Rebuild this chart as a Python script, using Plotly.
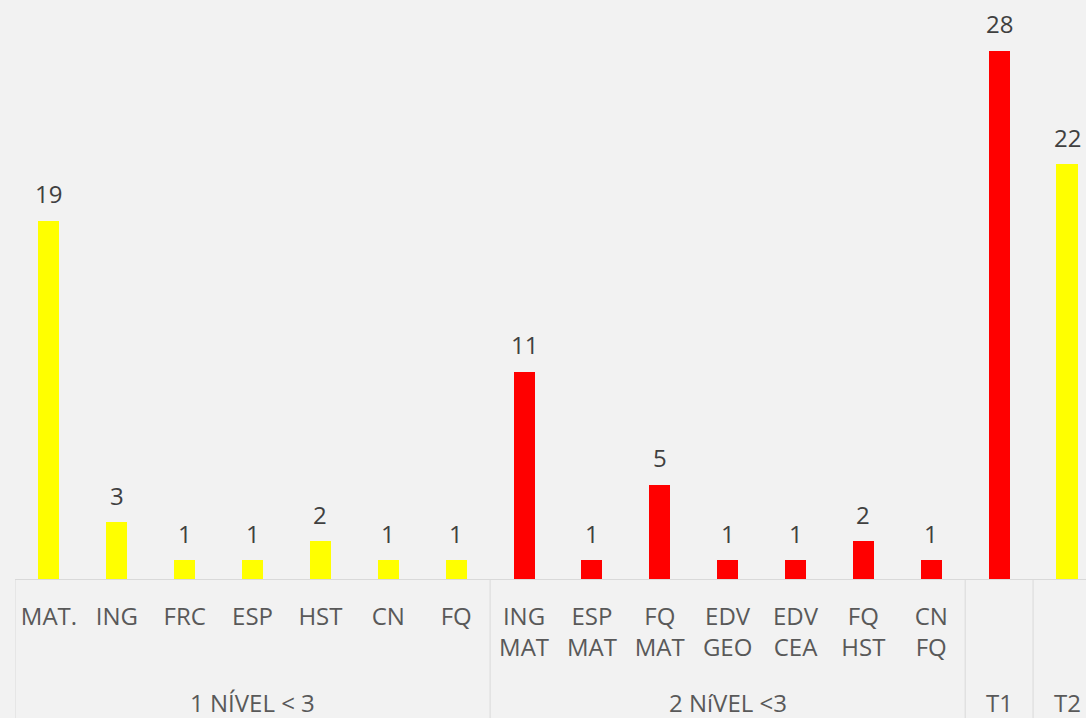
import plotly.graph_objects as go

# ---- data ----
sub_labels = ["MAT.", "ING", "FRC", "ESP", "HST", "CN", "FQ",
              "ING<br>MAT", "ESP<br>MAT", "FQ<br>MAT", "EDV<br>GEO", "EDV<br>CEA", "FQ<br>HST", "CN<br>FQ",
              "", ""]
values = [19, 3, 1, 1, 2, 1, 1, 11, 1, 5, 1, 1, 2, 1, 28, 22]
bar_colors = ["#FFFF00"] * 7 + ["#FF0000"] * 7 + ["#FF0000", "#FFFF00"]
group_labels = ["1 NÍVEL < 3", "2 NíVEL <3", "T1", "T2"]
group_sizes = [7, 7, 1, 1]

x = list(range(len(values)))

FONT = "Open Sans"
W, H = 1086, 718
ML, MB, MT, MR = 15, 139, 0, 0
plot_h = H - MB - MT

fig = go.Figure()
fig.add_trace(go.Bar(
    x=x, y=values,
    marker=dict(color=bar_colors, line=dict(width=0)),
    width=0.31,
    cliponaxis=False,
))

annotations = []
# value labels above bars
for xi, v in zip(x, values):
    annotations.append(dict(
        x=xi, y=v, xref="x", yref="y", text=str(v), showarrow=False,
        xanchor="center", yanchor="middle", yshift=27,
        font=dict(family=FONT, size=24, color="#404040"),
    ))

# group labels and dividers
shapes = []
start = 0
bounds = [-0.5]
for lab, n in zip(group_labels, group_sizes):
    center = start + (n - 1) / 2
    annotations.append(dict(
        x=center, y=-(702 - 579) / plot_h, xref="x", yref="paper",
        text=lab, showarrow=False, xanchor="center", yanchor="middle",
        font=dict(family=FONT, size=24, color="#595959"),
    ))
    start += n
    bounds.append(start - 0.5)
for b in bounds[:-1]:
    shapes.append(dict(type="line", xref="x", yref="paper",
                       x0=b, x1=b, y0=0, y1=-MB / plot_h,
                       line=dict(color="#D9D9D9", width=1)))

fig.update_layout(
    width=W, height=H,
    margin=dict(l=ML, r=MR, t=MT, b=MB),
    paper_bgcolor="#F2F2F2", plot_bgcolor="#F2F2F2",
    showlegend=False,
    bargap=0,
    shapes=shapes,
    annotations=annotations,
    xaxis=dict(
        range=[-0.5, 15.28],
        tickmode="array", tickvals=x, ticktext=sub_labels,
        tickfont=dict(family=FONT, size=24, color="#595959"),
        showline=True, linecolor="#D9D9D9", linewidth=1,
        showgrid=False, zeroline=False, ticks="",
        ticklabelstandoff=16,
    ),
    yaxis=dict(
        range=[0, 30.7], visible=False, showgrid=False, zeroline=False,
    ),
)

fig.write_html(
    "out.html",
    config={"displayModeBar": False},
    post_script="document.body.style.margin='0';document.body.style.overflow='hidden';",
)
